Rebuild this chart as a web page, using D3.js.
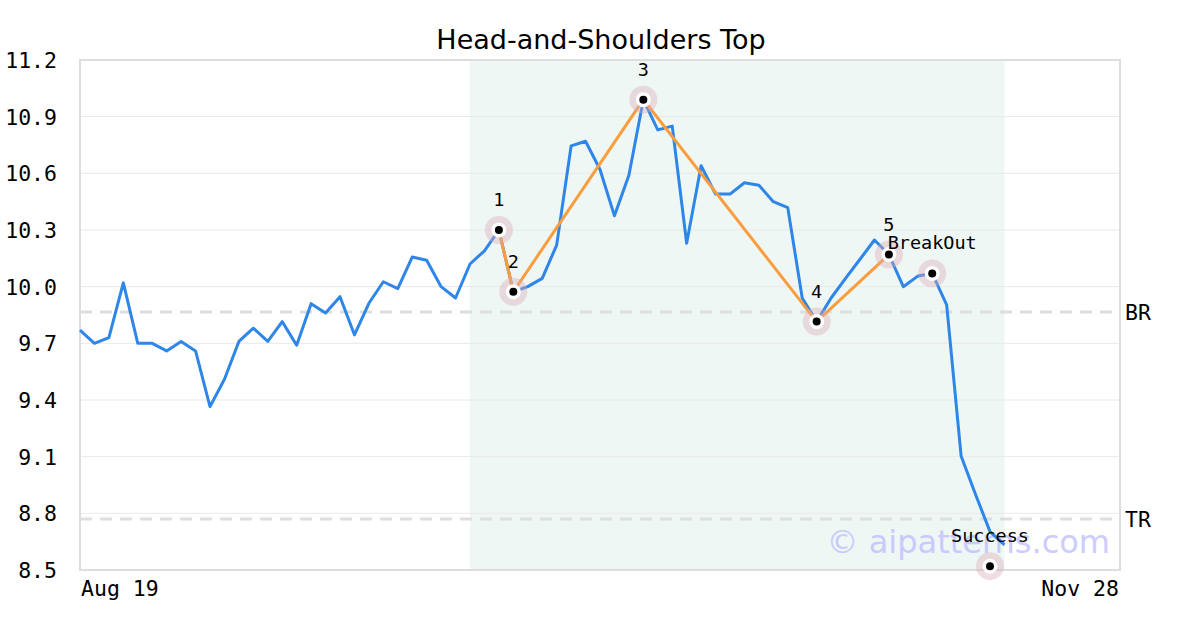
<!DOCTYPE html>
<html><head><meta charset="utf-8">
<script src="https://cdn.jsdelivr.net/npm/d3@7"></script>
<style>body{margin:0;background:#fff}svg{display:block}</style>
</head><body><svg id="c" width="1200" height="630"></svg>
<script>
const prices = [9.77,9.70,9.73,10.02,9.70,9.70,9.66,9.71,9.66,9.365,9.51,9.71,9.78,9.71,9.815,9.69,9.91,9.86,9.947,9.745,9.912,10.026,9.99,10.157,10.14,10.00,9.94,10.12,10.19,10.30,9.973,10.0,10.044,10.22,10.745,10.77,10.62,10.375,10.59,10.99,10.83,10.85,10.23,10.64,10.49,10.49,10.55,10.537,10.45,10.418,9.94,9.815,9.94,10.044,10.145,10.247,10.17,10.0,10.056,10.07,9.903,9.104,8.90,8.703,8.633];
const patternIdx = [29,30,39,51,56];
const patternVals = [10.30,9.973,10.99,9.815,10.17];
const patternLabels = ["1","2","3","4","5"];
const extraIdx = [59,63];
const extraVals = [10.07,8.52];
const extraLabels = ["BreakOut","Success"];
const levelNames = ["BR","TR"];
const levelVals = [9.866,8.77];
const shadeRange = [27,64];
const xTickIdx = [0,72];
const xTickLabels = ["Aug 19","Nov 28"];
const yTicks = [8.5,8.8,9.1,9.4,9.7,10.0,10.3,10.6,10.9,11.2];

const svg = d3.select("#c");
const L=80,R=1120,T=60,B=570;
const x = d3.scaleLinear().domain([0,72]).range([L,R]);
const y = d3.scaleLinear().domain([8.5,11.2]).range([B,T]);
const mono = "'DejaVu Sans Mono', monospace";

svg.append("text").attr("x",601).attr("y",49).attr("text-anchor","middle")
  .attr("font-family","'DejaVu Sans', sans-serif").attr("font-size",27).attr("fill","#000")
  .text("Head-and-Shoulders Top");

svg.append("rect").attr("x",x(shadeRange[0])).attr("y",T).attr("width",x(shadeRange[1])-x(shadeRange[0])).attr("height",B-T).attr("fill","#eff7f4");

svg.append("g").selectAll("line").data(yTicks).join("line")
  .attr("x1",L).attr("x2",R).attr("y1",d=>y(d)).attr("y2",d=>y(d))
  .attr("stroke","#e8e8e8").attr("stroke-width",1);

svg.append("g").selectAll("text").data(yTicks).join("text")
  .attr("x",57).attr("y",d=>y(d)+8).attr("text-anchor","end")
  .attr("font-family",mono).attr("font-size",21.5).attr("fill","#000")
  .text(d=>d.toFixed(1));

svg.append("g").selectAll("text").data(xTickIdx).join("text")
  .attr("x",d=>x(d)+(d===0?1:-1)).attr("y",596).attr("text-anchor",(d,i)=>i===0?"start":"end")
  .attr("font-family",mono).attr("font-size",21.5).attr("fill","#000")
  .text((d,i)=>xTickLabels[i]);

svg.append("g").selectAll("line").data(levelVals).join("line")
  .attr("x1",L).attr("x2",R).attr("y1",d=>y(d)).attr("y2",d=>y(d))
  .attr("stroke","#dedede").attr("stroke-width",3).attr("stroke-dasharray","12,8");
svg.append("g").selectAll("text").data(levelVals).join("text")
  .attr("x",1125).attr("y",d=>y(d)+8).attr("font-family",mono).attr("font-size",21.5).attr("fill","#000")
  .text((d,i)=>levelNames[i]);

svg.append("text").attr("x",1110).attr("y",553).attr("text-anchor","end")
  .attr("font-family","'DejaVu Sans', sans-serif").attr("font-size",32).attr("fill","#c0c0ff").attr("opacity",0.8)
  .text("© aipatterns.com");

svg.append("rect").attr("x",L).attr("y",T).attr("width",R-L).attr("height",B-T)
  .attr("fill","none").attr("stroke","#dddddd").attr("stroke-width",2);

svg.append("path").datum(prices)
  .attr("d",d3.line().x((d,i)=>x(i)).y(d=>y(d)))
  .attr("fill","none").attr("stroke","#2e86e8").attr("stroke-width",3).attr("stroke-linejoin","round");

svg.append("path").datum(patternIdx.map((d,i)=>[d,patternVals[i]]))
  .attr("d",d3.line().x(d=>x(d[0])).y(d=>y(d[1])))
  .attr("fill","none").attr("stroke","#f99d3e").attr("stroke-width",3);

const marks = patternIdx.map((d,i)=>({i:d,v:patternVals[i]})).concat(extraIdx.map((d,i)=>({i:d,v:extraVals[i]})));
const mg = svg.append("g");
mg.selectAll("circle.h").data(marks).join("circle").attr("class","h")
  .attr("cx",d=>x(d.i)).attr("cy",d=>y(d.v)).attr("r",14).attr("fill","#d9a9b6").attr("opacity",0.4);
mg.selectAll("circle.w").data(marks).join("circle").attr("class","w")
  .attr("cx",d=>x(d.i)).attr("cy",d=>y(d.v)).attr("r",7.5).attr("fill","#fff");
mg.selectAll("circle.b").data(marks).join("circle").attr("class","b")
  .attr("cx",d=>x(d.i)).attr("cy",d=>y(d.v)).attr("r",4).attr("fill","#000");

svg.append("g").selectAll("text").data(patternIdx).join("text")
  .attr("x",d=>x(d)).attr("y",(d,i)=>y(patternVals[i])-24)
  .attr("text-anchor","middle").attr("font-family",mono).attr("font-size",18.5).attr("fill","#000")
  .text((d,i)=>patternLabels[i]);

svg.append("g").selectAll("text").data(extraIdx).join("text")
  .attr("x",d=>x(d))
  .attr("y",(d,i)=>y(extraVals[i])-24)
  .attr("text-anchor","middle")
  .attr("font-family",mono).attr("font-size",18.5).attr("fill","#000")
  .text((d,i)=>extraLabels[i]);
</script></body></html>
